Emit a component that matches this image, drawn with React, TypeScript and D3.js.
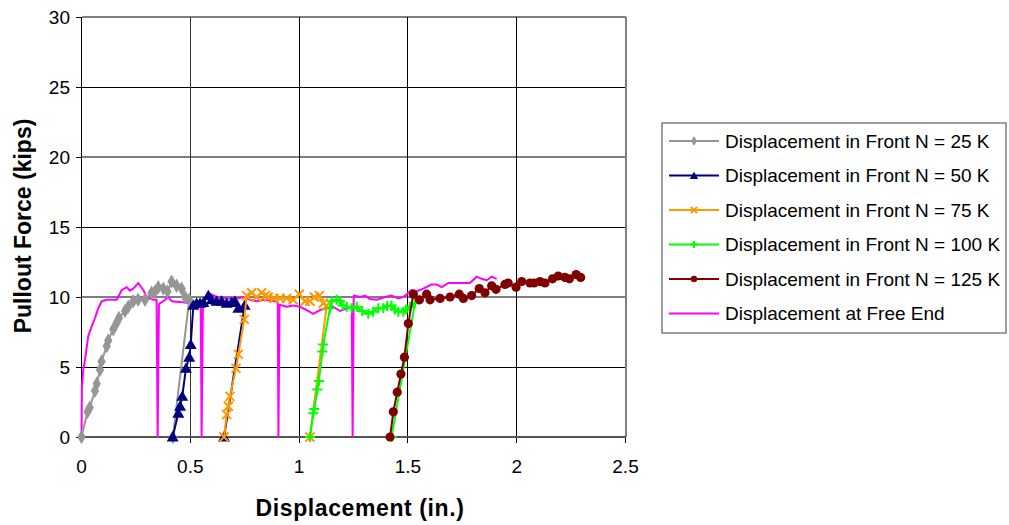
import React from "react";
import * as d3 from "d3";

type P = [number, number];

const xTicks = [0, 0.5, 1, 1.5, 2, 2.5];
const yTicks = [0, 5, 10, 15, 20, 25, 30];

const front25: P[] = [
  [0, 0], [0.028, 1.8], [0.038, 2.1], [0.062, 3.3], [0.07, 3.8], [0.085, 4.8], [0.092, 5.4],
  [0.116, 6.5], [0.123, 6.9], [0.146, 7.7], [0.163, 8.2], [0.172, 8.5], [0.2, 9.0], [0.215, 9.3],
  [0.238, 9.7], [0.26, 9.8], [0.292, 9.8], [0.322, 10.3], [0.338, 10.4], [0.353, 10.7],
  [0.376, 10.6], [0.395, 10.4], [0.414, 11.1], [0.437, 10.8], [0.46, 10.6], [0.476, 10.0],
  [0.495, 9.8], [0.42, 0],
];

const front50: P[] = [
  [0.419, 0], [0.445, 1.7], [0.453, 2.2], [0.463, 2.9], [0.48, 4.9], [0.495, 5.7], [0.502, 6.6],
  [0.514, 9.4], [0.529, 9.55], [0.545, 9.55], [0.56, 9.6], [0.583, 10.1], [0.598, 9.8],
  [0.621, 9.7], [0.644, 9.7], [0.667, 9.55], [0.69, 9.6], [0.705, 9.7], [0.721, 9.2],
  [0.75, 9.4], [0.655, 0],
];

const front75: P[] = [
  [0.655, 0], [0.667, 1.6], [0.675, 2.2], [0.682, 2.9], [0.71, 4.9], [0.721, 5.9], [0.748, 8.4],
  [0.759, 10.1], [0.782, 10.3], [0.805, 10.0], [0.828, 10.3], [0.845, 10.1], [0.858, 10.0],
  [0.885, 9.9], [0.912, 9.9], [0.943, 9.9], [0.973, 9.8], [1.001, 10.2], [1.027, 9.7],
  [1.05, 9.7], [1.07, 10.0], [1.093, 10.1], [1.111, 9.55], [1.127, 9.4], [1.05, 0],
];

const front100: P[] = [
  [1.05, 0], [1.065, 1.7], [1.07, 2.0], [1.084, 3.4], [1.091, 4.0], [1.107, 6.1], [1.111, 6.6],
  [1.142, 9.2], [1.15, 9.7], [1.173, 9.8], [1.188, 9.7], [1.2, 9.4], [1.219, 9.3], [1.242, 9.2],
  [1.265, 9.3], [1.29, 9.0], [1.318, 8.8], [1.34, 8.95], [1.364, 9.2], [1.387, 9.2],
  [1.405, 9.35], [1.425, 9.4], [1.44, 9.1], [1.456, 8.95], [1.479, 8.95], [1.49, 9.1],
  [1.51, 9.3], [1.532, 9.55], [1.425, 0],
];

const front125: P[] = [
  [1.418, 0], [1.433, 1.8], [1.451, 3.2], [1.468, 4.5], [1.484, 5.7], [1.502, 8.1], [1.525, 10.2],
  [1.553, 9.8], [1.586, 10.2], [1.602, 9.8], [1.648, 9.9], [1.694, 10.0], [1.736, 10.2],
  [1.755, 9.9], [1.793, 10.1], [1.828, 10.6], [1.854, 10.3], [1.885, 10.8], [1.905, 10.55],
  [1.946, 10.9], [1.961, 11.0], [1.997, 10.7], [2.023, 11.1], [2.061, 11.0], [2.08, 11.0],
  [2.107, 11.1], [2.13, 11.0], [2.165, 11.3], [2.191, 11.5], [2.222, 11.4], [2.242, 11.3],
  [2.273, 11.6], [2.294, 11.4],
];

const freeEnd: P[] = [
  [0, 0], [0.002, 3.6], [0.008, 4.8], [0.016, 5.5], [0.031, 7.2], [0.047, 7.9], [0.062, 8.5],
  [0.077, 9.2], [0.093, 9.7], [0.116, 9.8], [0.162, 9.8], [0.185, 10.5], [0.208, 10.7],
  [0.223, 10.45], [0.238, 10.6], [0.261, 11.0], [0.284, 10.5], [0.3, 10.0], [0.33, 9.8],
  [0.345, 9.8], [0.35, 0], [0.356, 9.5], [0.376, 9.7], [0.399, 10.0], [0.414, 9.7],
  [0.476, 9.6], [0.514, 9.55], [0.548, 9.55], [0.552, 0], [0.558, 9.6], [0.583, 10.3],
  [0.621, 10.0], [0.667, 9.9], [0.713, 9.9], [0.751, 10.0], [0.774, 9.8], [0.805, 9.7],
  [0.836, 9.8], [0.889, 9.7], [0.902, 9.6], [0.905, 0], [0.91, 9.45], [0.943, 9.3],
  [0.973, 9.4], [1.004, 9.3], [1.035, 9.07], [1.065, 8.8], [1.096, 9.07], [1.127, 9.2],
  [1.157, 9.3], [1.188, 9.0], [1.219, 9.2], [1.242, 9.3], [1.246, 0], [1.251, 10.1],
  [1.28, 10.0], [1.303, 10.1], [1.326, 9.85], [1.357, 9.8], [1.395, 10.0], [1.425, 10.1],
  [1.456, 9.9], [1.479, 10.0], [1.517, 10.5], [1.54, 10.4], [1.571, 10.6], [1.609, 10.9],
  [1.632, 10.9], [1.655, 10.7], [1.686, 11.0], [1.724, 11.0], [1.762, 11.0], [1.785, 11.0],
  [1.816, 11.45], [1.839, 11.3], [1.862, 11.2], [1.885, 11.45], [1.908, 11.3],
];

const seriesNames = [
  "Displacement in Front N = 25 K",
  "Displacement in Front N = 50 K",
  "Displacement in Front N = 75 K",
  "Displacement in Front N = 100 K",
  "Displacement in Front N = 125 K",
  "Displacement at Free End",
];

type Marker = "diamond" | "triangle" | "x" | "plus" | "circle" | "none";

const series: { name: string; data: P[]; color: string; marker: Marker }[] = [
  { name: seriesNames[5], data: freeEnd, color: "#FF00FF", marker: "none" },
  { name: seriesNames[0], data: front25, color: "#969696", marker: "diamond" },
  { name: seriesNames[1], data: front50, color: "#000080", marker: "triangle" },
  { name: seriesNames[2], data: front75, color: "#FF9900", marker: "x" },
  { name: seriesNames[3], data: front100, color: "#00FF00", marker: "plus" },
  { name: seriesNames[4], data: front125, color: "#800000", marker: "circle" },
];

const legendOrder = [1, 2, 3, 4, 5, 0];

const W = 1009;
const H = 525;
const FONT = "'Liberation Sans', Arial, sans-serif";

function MarkerShape({ kind, x, y, color, s }: { kind: Marker; x: number; y: number; color: string; s: number }) {
  if (kind === "diamond") {
    const p = d3.symbol().type(d3.symbolDiamond).size(60 * s * s)();
    return <path d={p || ""} transform={`translate(${x},${y})`} fill={color} />;
  }
  if (kind === "triangle") {
    const p = d3.symbol().type(d3.symbolTriangle).size(62 * s * s)();
    return <path d={p || ""} transform={`translate(${x},${y + 1})`} fill={color} />;
  }
  if (kind === "circle") {
    return <circle cx={x} cy={y} r={4.6 * s} fill={color} />;
  }
  if (kind === "x") {
    const r = 4.5 * s;
    return (
      <path
        d={`M${x - r},${y - r}L${x + r},${y + r}M${x - r},${y + r}L${x + r},${y - r}`}
        stroke={color}
        strokeWidth={2}
        fill="none"
      />
    );
  }
  if (kind === "plus") {
    const r = 5 * s;
    return (
      <path
        d={`M${x - r},${y}L${x + r},${y}M${x},${y - r}L${x},${y + r}`}
        stroke={color}
        strokeWidth={2}
        fill="none"
      />
    );
  }
  return null;
}

export default function App() {
  const x = d3.scaleLinear().domain([0, 2.5]).range([81.5, 625.5]);
  const y = d3.scaleLinear().domain([0, 30]).range([437, 17]);
  const line = d3
    .line<P>()
    .x((d) => x(d[0]))
    .y((d) => y(d[1]));

  const legendX = 662;
  const legendY = 123;
  const legendW = 344;
  const legendH = 210;

  return (
    <svg
      width={W}
      height={H}
      style={{ position: "absolute", left: 0, top: 0, background: "#fff" }}
      fontFamily={FONT}
    >
      {yTicks.map((t) => (
        <line
          key={"hy" + t}
          x1={x(0)}
          x2={x(2.5)}
          y1={y(t)}
          y2={y(t)}
          stroke={t % 10 === 0 ? "#7f7f7f" : "#000"}
          strokeWidth={t % 10 === 0 ? 2 : 1}
          shapeRendering="crispEdges"
        />
      ))}
      {xTicks.slice(1).map((t) => (
        <line
          key={"vx" + t}
          x1={x(t)}
          x2={x(t)}
          y1={y(30)}
          y2={y(0)}
          stroke={t === 2.5 ? "#7f7f7f" : t === 0.5 ? "#333" : "#000"}
          strokeWidth={t === 2.5 ? 2 : 1}
          shapeRendering="crispEdges"
        />
      ))}
      <line x1={x(0)} x2={x(0)} y1={y(30)} y2={y(0) + 6} stroke="#000" strokeWidth={1.5} shapeRendering="crispEdges" />
      {yTicks.map((t) => (
        <line key={"yt" + t} x1={x(0) - 6} x2={x(0)} y1={y(t)} y2={y(t)} stroke="#000" strokeWidth={1} shapeRendering="crispEdges" />
      ))}
      {xTicks.map((t) => (
        <line key={"xt" + t} x1={x(t)} x2={x(t)} y1={y(0)} y2={y(0) + 6} stroke="#000" strokeWidth={1} shapeRendering="crispEdges" />
      ))}
      <line x1={x(0)} x2={x(2.5)} y1={y(0)} y2={y(0)} stroke="#555" strokeWidth={2} shapeRendering="crispEdges" />

      {yTicks.map((t) => (
        <text key={"yl" + t} x={70} y={y(t)} dy="0.35em" textAnchor="end" fontSize={19} fill="#000">
          {t}
        </text>
      ))}
      {xTicks.map((t) => (
        <text key={"xl" + t} x={x(t)} y={473} textAnchor="middle" fontSize={19} fill="#000">
          {t}
        </text>
      ))}

      <text x={360} y={516} textAnchor="middle" fontSize={23} fontWeight="bold" letterSpacing={0.6} fill="#000">
        Displacement (in.)
      </text>
      <text
        transform={`translate(31,226) rotate(-90)`}
        textAnchor="middle"
        fontSize={23}
        fontWeight="bold"
        fill="#000"
      >
        Pullout Force (kips)
      </text>

      {series.map((s) => (
        <g key={s.name}>
          <path d={line(s.data) || ""} fill="none" stroke={s.color} strokeWidth={2} strokeLinejoin="round" />
          {s.marker !== "none" &&
            s.data.map((d, i) => (
              <MarkerShape key={i} kind={s.marker} x={x(d[0])} y={y(d[1])} color={s.color} s={1} />
            ))}
        </g>
      ))}

      <rect
        x={legendX}
        y={legendY}
        width={legendW}
        height={legendH}
        fill="#fff"
        stroke="#7f7f7f"
        strokeWidth={1.5}
      />
      {legendOrder.map((si, i) => {
        const s = series[si];
        const cy = legendY + 18 + i * 34.5;
        return (
          <g key={"lg" + si}>
            <line x1={669} x2={719} y1={cy} y2={cy} stroke={s.color} strokeWidth={2} />
            {s.marker !== "none" && <MarkerShape kind={s.marker} x={694} y={cy} color={s.color} s={0.7} />}
            <text x={725} y={cy} dy="0.35em" fontSize={19} fill="#000">
              {s.name}
            </text>
          </g>
        );
      })}
    </svg>
  );
}
